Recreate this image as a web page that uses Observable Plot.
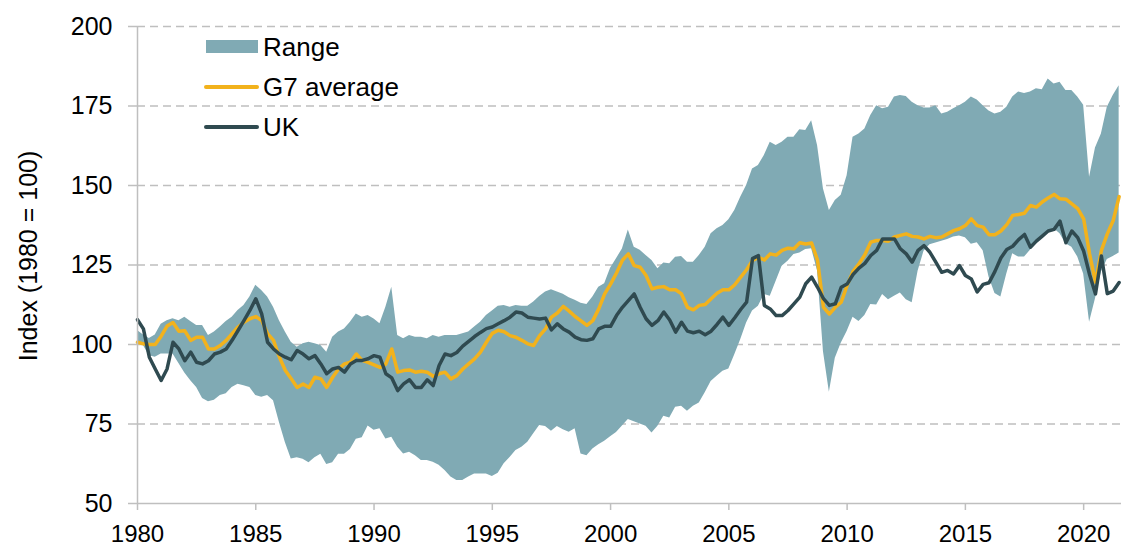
<!DOCTYPE html>
<html>
<head>
<meta charset="utf-8">
<script src="https://cdn.jsdelivr.net/npm/d3@7"></script>
<script src="https://cdn.jsdelivr.net/npm/@observablehq/plot@0.6"></script>
<style>
  html, body { margin: 0; padding: 0; background: #fff; }
  #chart { width: 1121px; height: 547px; }
</style>
</head>
<body>
<div id="chart"></div>
<script>
// Quarterly series, 1980 Q1 onwards
const startYear = 1980;
const uk = [
107.8,104.9,96.0,92.3,88.7,92.3,100.7,98.6,94.9,97.6,
94.4,93.9,94.9,97.0,97.6,98.6,101.3,104.4,107.5,110.7,
114.4,109.6,100.7,98.6,97.0,96.0,95.2,98.1,97.0,95.5,
96.5,93.9,90.8,92.3,92.8,91.3,93.9,95.0,95.0,95.5,
96.5,96.0,90.8,89.5,85.5,87.6,88.9,86.5,86.5,88.9,
87.1,93.4,97.0,96.5,97.5,99.5,101.0,102.5,103.8,105.0,
105.5,106.5,107.5,108.6,110.2,109.9,108.6,108.3,108.0,108.3,
104.6,106.5,104.9,103.9,102.3,101.5,101.3,101.8,104.9,105.7,
105.7,109.1,111.7,113.8,115.9,111.7,108.1,106.0,107.5,110.2,
107.7,103.9,107.0,104.2,103.7,104.2,103.1,104.2,106.3,108.6,
106.0,108.4,111.0,113.3,127.0,128.0,112.3,111.2,109.1,109.1,
110.7,112.8,114.9,119.1,121.2,118.0,114.4,112.3,112.8,118.0,
119.0,122.0,124.0,125.5,128.0,129.6,133.2,133.2,133.2,130.1,
128.5,125.9,129.6,131.1,129.0,125.9,122.7,123.3,122.2,124.8,
121.7,120.6,116.5,118.9,119.4,123.0,127.2,129.9,130.9,133.0,
134.6,130.6,132.5,134.1,135.7,136.2,138.8,132.0,135.7,133.6,
129.4,122.0,115.9,127.8,116.0,116.8,119.5
];
const g7 = [
100.7,100.2,100.0,100.0,102.6,105.8,106.9,104.2,104.3,101.3,
102.3,102.3,98.6,98.6,99.7,101.3,103.4,105.5,107.0,108.1,
108.8,107.5,103.4,101.3,96.0,91.8,89.2,86.5,87.6,86.5,
89.7,89.2,86.5,89.7,92.3,93.9,94.4,97.0,95.0,94.4,
93.6,92.8,93.9,98.6,91.3,91.8,92.0,91.3,91.6,91.3,
90.0,90.8,91.3,89.2,90.2,92.3,93.9,95.5,97.6,100.7,
103.5,104.5,104.0,102.8,102.3,101.3,100.2,99.7,102.8,104.9,
108.6,109.9,112.0,110.5,108.8,107.4,106.0,107.5,111.2,115.9,
119.0,122.5,126.5,128.5,124.8,124.3,121.7,117.5,118.0,118.2,
117.2,117.2,115.9,111.7,110.9,112.3,112.6,114.4,116.1,117.2,
117.2,118.8,121.2,123.5,126.4,127.4,126.6,128.5,128.1,129.6,
130.3,130.1,132.0,131.6,131.9,126.5,111.7,109.6,111.7,113.3,
118.6,123.0,125.4,128.2,132.2,132.7,132.7,132.5,133.8,134.3,
134.8,134.0,133.8,133.2,134.0,133.6,133.8,134.8,135.8,136.4,
137.4,139.5,137.4,136.9,134.5,134.5,135.7,137.7,140.6,140.9,
141.3,143.7,143.2,144.8,146.1,147.2,145.8,145.7,144.2,142.7,
139.5,128.5,119.6,129.6,134.8,139.0,146.5
];
const rangeMax = [
104.4,103.0,101.9,103.0,106.4,107.5,108.1,107.5,108.6,107.2,
106.0,106.0,102.8,103.9,105.5,107.2,108.6,110.7,112.3,114.9,
118.6,117.0,114.9,111.7,107.5,103.9,100.7,99.1,100.2,100.7,
100.2,99.7,97.6,102.3,103.9,104.9,107.0,109.6,108.6,109.1,
108.0,106.5,111.7,118.0,102.8,101.8,102.8,102.3,102.3,101.8,
102.8,102.3,102.8,102.8,102.8,103.4,103.9,105.5,107.0,109.1,
110.5,112.0,112.3,111.7,112.3,112.0,112.0,113.4,115.1,116.5,
117.2,116.5,115.8,114.7,113.9,113.0,112.6,114.9,118.0,119.1,
124.0,127.0,130.0,136.0,130.6,129.6,128.0,126.4,123.8,125.6,
125.4,127.4,127.7,125.9,125.9,128.0,130.6,134.8,136.4,137.4,
139.2,142.1,146.3,150.0,155.2,156.3,159.4,163.6,162.6,163.6,
165.2,165.2,167.5,167.3,170.4,162.6,148.9,142.1,145.3,146.9,
153.1,165.2,166.2,167.8,172.0,175.1,174.1,174.6,177.8,178.3,
178.0,176.2,175.1,174.4,174.4,175.1,172.5,173.0,174.1,175.1,
176.2,177.8,176.9,175.1,173.4,172.5,173.0,174.6,177.8,179.4,
178.9,179.4,180.4,180.1,183.5,181.9,182.5,179.9,179.9,177.8,
175.2,152.6,161.8,166.2,174.6,178.3,181.4
];
const rangeMin = [
100.7,99.7,96.5,96.0,97.0,97.0,97.0,94.0,91.0,88.6,
86.5,83.0,82.0,82.5,84.0,84.5,86.5,87.5,87.0,86.5,
84.0,83.4,84.0,82.3,75.5,69.2,64.0,64.4,63.9,62.8,
64.4,65.5,62.3,62.8,65.5,65.5,67.0,70.2,70.7,74.4,
73.0,73.5,70.3,70.8,67.7,65.6,66.1,65.0,63.5,63.5,
63.0,62.0,60.4,58.3,57.2,57.2,58.3,59.3,59.3,59.3,
58.5,59.5,62.5,64.5,66.7,67.7,69.3,71.9,74.5,74.2,
72.7,74.2,73.2,72.4,73.5,65.6,65.0,67.1,68.5,69.6,
71.0,72.3,74.4,76.4,75.7,75.0,74.3,72.2,74.3,77.4,
76.9,80.3,80.6,79.0,80.6,81.6,84.8,88.4,90.0,91.6,
92.3,96.8,101.5,106.8,110.5,112.0,115.7,115.2,119.9,124.6,
126.2,128.3,128.8,129.9,130.1,123.1,97.7,85.0,95.7,100.4,
104.1,108.6,107.2,109.1,112.6,112.4,115.7,114.1,115.2,116.2,
114.1,113.1,123.0,129.3,131.4,131.9,132.5,133.0,133.8,134.1,
133.6,131.5,132.0,129.5,121.2,116.0,114.9,122.2,128.5,127.5,
127.5,129.6,132.2,134.3,135.8,136.4,134.8,131.7,130.6,127.5,
122.2,107.0,114.4,122.8,126.7,127.7,128.8
];
const xTicks = [1980, 1985, 1990, 1995, 2000, 2005, 2010, 2015, 2020];
const yTicks = [50, 75, 100, 125, 150, 175, 200];
const legendLabels = ["Range", "G7 average", "UK"];
const yLabel = "Index (1980 = 100)";

const colBand = "#80aab4";
const colG7 = "#f2b21c";
const colUK = "#2f4a50";
const colAxis = "#bfbfbf";

const data = uk.map((v, i) => ({
  t: startYear + i / 4,
  uk: v, g7: g7[i], lo: rangeMin[i], hi: rangeMax[i]
}));

const font = "'Liberation Sans', Arial, sans-serif";

const svg = Plot.plot({
  width: 1121,
  height: 547,
  marginLeft: 137,
  marginRight: 0,
  marginTop: 26,
  marginBottom: 44,
  style: { fontFamily: font, fontSize: "25px", color: "#000", background: "#fff", overflow: "visible" },
  x: { domain: [1980, 2021.6] },
  y: { domain: [50, 200] },
  marks: [
    Plot.gridY(yTicks.filter(d => d > 50), { stroke: colAxis, strokeOpacity: 1, strokeWidth: 1.5, strokeDasharray: "8,5" }),
    Plot.areaY(data, { x: "t", y1: "lo", y2: "hi", fill: colBand, curve: "linear" }),
    Plot.lineY(data, { x: "t", y: "g7", stroke: colG7, strokeWidth: 3.5, strokeLinejoin: "round" }),
    Plot.lineY(data, { x: "t", y: "uk", stroke: colUK, strokeWidth: 3.5, strokeLinejoin: "round" }),
    Plot.ruleY([50], { stroke: colAxis, strokeWidth: 1.5 }),
    Plot.ruleX([1980], { stroke: colAxis, strokeWidth: 1.5 }),
    Plot.axisX(xTicks, { tickFormat: d => String(d), tickSize: 7, tickPadding: 14, stroke: colAxis, strokeWidth: 1.5, fill: "#000", label: null, fontSize: 24 }),
    Plot.axisY(yTicks, { tickSize: 9, tickPadding: 16, stroke: colAxis, strokeWidth: 1.5, fill: "#000", label: null, fontSize: 25 })
  ]
});

const s = d3.select(svg);
// Y-axis title
s.append("text")
  .attr("transform", "translate(28,256) rotate(-90)")
  .attr("text-anchor", "middle")
  .attr("dominant-baseline", "central")
  .attr("font-family", font)
  .attr("font-size", 25)
  .attr("fill", "#000")
  .text(yLabel);

// Legend
const lg = s.append("g").attr("font-family", font).attr("font-size", 26).attr("fill", "#000").attr("text-anchor", "start");
lg.append("rect").attr("x", 206).attr("y", 40).attr("width", 52).attr("height", 13).attr("fill", colBand);
lg.append("line").attr("x1", 206).attr("x2", 257).attr("y1", 87).attr("y2", 87)
  .attr("stroke", colG7).attr("stroke-width", 4).attr("stroke-linecap", "round");
lg.append("line").attr("x1", 206).attr("x2", 257).attr("y1", 127).attr("y2", 127)
  .attr("stroke", colUK).attr("stroke-width", 4).attr("stroke-linecap", "round");
const ly = [46.5, 87, 127];
legendLabels.forEach((t, i) => {
  lg.append("text").attr("x", 263).attr("y", ly[i]).attr("dominant-baseline", "central").attr("text-anchor", "start").text(t);
});

document.getElementById("chart").appendChild(svg);
</script>
</body>
</html>
